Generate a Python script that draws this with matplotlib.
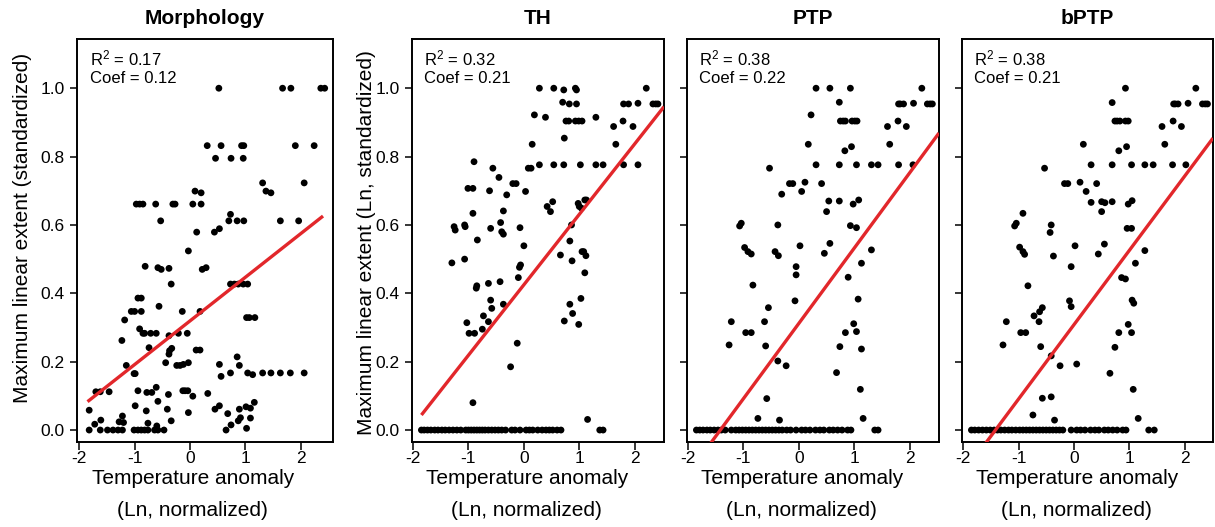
import matplotlib
matplotlib.use('Agg')
import matplotlib.pyplot as plt

plt.rcParams['font.family'] = ['Liberation Sans', 'DejaVu Sans']
plt.rcParams['mathtext.fontset'] = 'custom'
plt.rcParams['mathtext.rm'] = 'Liberation Sans'
plt.rcParams['mathtext.it'] = 'Liberation Sans:italic'
plt.rcParams['mathtext.bf'] = 'Liberation Sans:bold'
plt.rcParams['axes.unicode_minus'] = False

# ---------------- data ----------------
titles = ["Morphology", "TH", "PTP", "bPTP"]
r2_values = ["0.17", "0.32", "0.38", "0.38"]
coef_values = ["0.12", "0.21", "0.22", "0.21"]
x_ticks = [-2, -1, 0, 1, 2]
y_ticks = [0.0, 0.2, 0.4, 0.6, 0.8, 1.0]
y_tick_labels = ["0.0", "0.2", "0.4", "0.6", "0.8", "1.0"]
x_label = ["Temperature anomaly", "(Ln, normalized)"]
y_label_morph = "Maximum linear extent (standardized)"
y_label_ln = "Maximum linear extent (Ln, standardized)"

morph_pts = [
    (0.52,1.0),(1.67,1.0),(1.82,1.0),(2.36,1.0),(2.43,1.0),
    (0.31,0.832),(0.56,0.832),(0.93,0.832),(0.97,0.832),(1.90,0.832),(2.24,0.832),
    (0.46,0.795),(0.74,0.795),(0.96,0.795),
    (1.31,0.723),(2.06,0.723),
    (0.09,0.699),(0.20,0.694),(1.37,0.699),(1.46,0.694),
    (-0.97,0.661),(-0.91,0.661),(-0.85,0.661),(-0.62,0.661),(-0.31,0.661),(-0.27,0.661),(0.05,0.661),(0.20,0.661),
    (0.73,0.631),
    (-0.53,0.612),(0.70,0.612),(0.85,0.612),(0.97,0.612),(1.63,0.612),(1.96,0.612),
    (0.53,0.589),(0.12,0.579),(0.44,0.579),
    (-0.03,0.524),
    (-0.81,0.479),(-0.58,0.475),(-0.52,0.470),(-0.38,0.473),(0.22,0.470),(0.29,0.475),
    (-0.34,0.427),(0.73,0.427),(0.80,0.427),(0.87,0.427),(0.96,0.427),(1.04,0.427),
    (-0.94,0.386),(-0.88,0.386),
    (-0.56,0.362),
    (-1.06,0.347),(-1.00,0.347),(-0.88,0.347),(-0.14,0.347),(0.18,0.347),
    (1.02,0.329),(1.07,0.329),(1.17,0.329),
    (-1.18,0.322),
    (-0.91,0.296),(-0.85,0.283),(-0.82,0.283),(-0.71,0.283),(-0.61,0.283),(-0.38,0.276),(-0.21,0.283),(-0.05,0.283),
    (-1.23,0.262),
    (-0.74,0.241),(-0.37,0.232),(-0.33,0.239),(0.11,0.234),(0.18,0.234),
    (-0.38,0.222),(-0.44,0.197),(-0.24,0.189),(-0.18,0.189),(-0.12,0.192),(-0.03,0.197),(-1.15,0.189),
    (-1.01,0.165),(-0.99,0.165),
    (0.85,0.214),(0.89,0.189),(0.53,0.192),(0.56,0.157),(0.73,0.167),(1.04,0.167),(1.13,0.162),
    (1.31,0.167),(1.46,0.167),(1.63,0.167),(1.81,0.167),(2.06,0.167),
    (-1.70,0.112),(-1.62,0.112),(-1.46,0.112),(-0.94,0.115),(-0.78,0.110),(-0.69,0.110),(-0.61,0.125),
    (-0.13,0.115),(-0.09,0.115),(-0.04,0.115),(0.05,0.099),(0.32,0.107),(-0.39,0.104),
    (-0.99,0.071),(-0.58,0.084),(-0.41,0.061),(-0.79,0.056),(0.53,0.071),(0.45,0.061),(0.68,0.048),
    (0.89,0.061),(1.01,0.068),(1.09,0.064),(1.16,0.081),
    (-1.82,0.058),(-1.72,0.017),(-1.61,0.029),(-1.22,0.041),(-1.20,0.022),(-0.34,0.027),(-0.03,0.051),
    (0.87,0.027),(0.91,0.036),(1.09,0.035),(0.74,0.015),(1.02,0.005),(-0.76,0.020),(-0.60,0.012),(-1.28,0.024),
    (-1.82,0.0),(-1.62,0.0),(-1.49,0.0),(-1.39,0.0),(-1.30,0.0),(-1.22,0.0),(-1.01,0.0),(-0.94,0.0),
    (-0.88,0.0),(-0.82,0.0),(-0.76,0.0),(-0.64,0.0),(-0.58,0.0),(-0.47,0.0),(0.65,0.0),
]

th_pts = [
    (0.28,1.0),(0.54,1.0),(0.93,1.0),(0.72,0.995),(0.95,0.995),(2.21,1.0),
    (0.70,0.959),(0.82,0.954),(0.95,0.954),(1.80,0.954),(1.89,0.954),(2.06,0.956),(2.33,0.954),(2.38,0.954),(2.42,0.954),
    (0.19,0.922),(0.39,0.915),(1.30,0.915),
    (0.76,0.904),(0.81,0.904),(0.93,0.904),(0.99,0.904),(1.05,0.904),(1.79,0.904),
    (1.62,0.888),(1.97,0.888),
    (0.73,0.854),
    (0.15,0.836),(1.66,0.836),
    (-0.90,0.785),
    (0.28,0.776),(0.54,0.776),(0.72,0.776),(1.02,0.776),(1.30,0.776),(1.43,0.776),(1.80,0.776),(2.06,0.776),
    (-0.56,0.766),(0.08,0.766),(0.13,0.766),
    (-0.45,0.739),
    (-0.20,0.721),(-0.14,0.721),
    (-1.01,0.707),(-0.92,0.707),
    (-0.62,0.700),(0.03,0.698),(-0.31,0.688),
    (1.10,0.673),(1.13,0.673),(0.52,0.668),(0.98,0.663),
    (0.42,0.654),(1.00,0.654),(1.04,0.649),
    (-0.37,0.641),(0.48,0.639),
    (-0.92,0.634),
    (-0.42,0.607),(0.86,0.600),
    (-1.26,0.595),(-1.06,0.595),(-0.60,0.590),(-0.07,0.592),
    (-1.24,0.585),(-1.07,0.600),(-0.40,0.580),(-0.37,0.573),
    (-0.84,0.556),(0.83,0.553),(0.00,0.539),
    (1.05,0.522),(1.08,0.522),(1.12,0.510),
    (0.66,0.512),(-1.07,0.500),(0.87,0.495),(-1.30,0.489),
    (-0.06,0.483),(-0.08,0.476),
    (1.10,0.460),(-0.10,0.446),(-0.43,0.434),(-0.64,0.429),(-0.85,0.422),(-0.86,0.415),
    (1.03,0.385),(-0.60,0.380),(-0.37,0.368),(0.83,0.368),(-0.58,0.356),(0.88,0.341),(-0.73,0.334),
    (0.73,0.319),(-0.64,0.317),(-1.03,0.314),(0.99,0.309),(-0.75,0.295),(-0.99,0.283),(-0.89,0.283),
    (-0.12,0.254),(-0.24,0.185),(-0.92,0.080),(1.15,0.031),
]
th_zero_x = [-1.85,-1.80,-1.74,-1.68,-1.61,-1.55,-1.48,-1.42,-1.35,-1.28,-1.21,-1.14,-1.05,-1.00,
             -0.95,-0.90,-0.85,-0.80,-0.75,-0.70,-0.64,-0.58,-0.52,-0.46,-0.40,-0.33,-0.22,-0.16,
             -0.07,0.04,0.10,0.16,0.25,0.33,0.40,0.46,0.52,0.60,0.67,1.37,1.43]

ptp_pts = [
    (0.31,1.0),(0.56,1.0),(0.93,1.0),(2.22,1.0),
    (0.73,0.959),
    (1.80,0.954),(1.83,0.954),(1.89,0.954),(2.07,0.956),(2.32,0.954),(2.37,0.954),(2.41,0.954),
    (0.22,0.922),
    (0.75,0.904),(0.80,0.904),(0.84,0.904),(0.96,0.904),(1.01,0.904),(1.05,0.904),(1.79,0.904),
    (1.60,0.888),(1.94,0.888),
    (0.17,0.836),(1.64,0.836),(0.95,0.829),(0.83,0.817),
    (0.31,0.776),(0.73,0.776),(1.04,0.776),(1.31,0.776),(1.43,0.776),(1.80,0.776),(2.06,0.776),
    (-0.53,0.766),
    (-0.17,0.721),(-0.11,0.721),(0.11,0.725),(0.41,0.721),
    (0.05,0.698),(-0.31,0.690),
    (0.54,0.670),(0.73,0.670),(1.08,0.673),(0.98,0.661),
    (0.50,0.639),
    (-1.04,0.605),(-1.07,0.597),(-0.38,0.600),
    (0.93,0.598),(1.04,0.592),
    (0.56,0.546),(0.02,0.539),(-0.98,0.534),(1.31,0.527),
    (-0.92,0.522),(-0.86,0.515),(-0.43,0.522),(-0.37,0.510),(0.46,0.517),
    (1.13,0.488),(-0.05,0.478),(-0.05,0.454),(0.89,0.447),(-0.83,0.424),
    (1.07,0.383),(-0.07,0.378),(-0.55,0.358),(-1.22,0.317),(-0.62,0.317),(0.99,0.311),(1.04,0.288),
    (-0.96,0.285),(-0.86,0.285),(0.84,0.285),
    (-1.26,0.249),(-0.60,0.246),(0.74,0.244),(1.13,0.237),
    (-0.38,0.202),(-0.23,0.188),(0.68,0.168),(1.11,0.119),(-0.58,0.092),(-0.74,0.034),(1.16,0.034),(-0.35,0.029),
]
ptp_zero_x = [-1.85,-1.79,-1.73,-1.66,-1.60,-1.53,-1.46,-1.40,-1.33,-1.22,-1.14,-1.08,-1.02,-0.96,
              -0.90,-0.84,-0.78,-0.72,-0.66,-0.60,-0.54,-0.48,-0.42,-0.36,-0.30,-0.22,-0.15,-0.05,
              0.05,0.12,0.20,0.30,0.38,0.45,0.55,0.62,0.70,0.78,0.88,0.94,1.37,1.43]

bptp_pts = [
    (0.93,1.0),(2.20,1.0),
    (0.69,0.958),
    (1.80,0.954),(1.83,0.954),(1.88,0.954),(2.06,0.956),(2.32,0.954),(2.37,0.954),(2.41,0.954),
    (0.74,0.904),(0.78,0.904),(0.83,0.904),(0.93,0.904),(0.98,0.904),(1.79,0.904),
    (1.59,0.888),(1.94,0.888),
    (0.17,0.836),(1.64,0.836),(0.95,0.829),(0.81,0.817),
    (0.31,0.776),(0.69,0.776),(1.04,0.776),(1.28,0.776),(1.43,0.776),(1.78,0.776),(2.02,0.776),
    (-0.53,0.766),
    (-0.17,0.721),(-0.11,0.721),(0.11,0.725),(0.41,0.721),
    (0.22,0.698),
    (0.31,0.666),(0.50,0.668),(0.56,0.665),(0.69,0.668),(1.05,0.671),(0.98,0.661),
    (0.50,0.639),(-0.92,0.634),
    (-1.04,0.605),(-1.07,0.597),(-0.41,0.600),(-0.43,0.578),
    (0.96,0.590),(1.04,0.590),
    (0.55,0.544),(0.02,0.539),(-0.98,0.535),
    (-0.92,0.522),(-0.89,0.514),(0.44,0.515),(-0.37,0.509),(1.28,0.525),
    (1.11,0.488),(-0.05,0.478),(0.86,0.446),(0.93,0.442),(-0.83,0.422),
    (1.05,0.380),(1.08,0.371),(-0.08,0.378),(-0.05,0.361),
    (-0.57,0.358),(-0.62,0.346),(-0.72,0.334),(-0.63,0.317),
    (-1.22,0.317),(0.98,0.309),(-0.96,0.285),(-0.87,0.285),(0.81,0.285),(1.04,0.285),
    (-1.28,0.249),(-0.60,0.244),(0.74,0.242),
    (-0.41,0.217),(0.05,0.193),(-0.25,0.188),(0.65,0.166),(1.07,0.119),(-0.41,0.097),(-0.57,0.093),
    (-0.74,0.044),(1.16,0.034),(-0.35,0.029),
]
bptp_zero_x = [-1.85,-1.79,-1.72,-1.65,-1.58,-1.51,-1.44,-1.38,-1.32,-1.25,-1.18,-1.12,-1.05,-0.98,
               -0.92,-0.86,-0.80,-0.74,-0.68,-0.62,-0.56,-0.50,-0.44,-0.38,-0.32,-0.26,-0.20,-0.05,
               0.05,0.12,0.20,0.30,0.38,0.45,0.55,0.62,0.70,0.78,0.88,0.94,1.35,1.45]

# regression lines (endpoints)
fit_x = [[-1.85, 2.40], [-1.85, 2.53], [-1.60, 2.53], [-1.60, 2.51]]
fit_y = [[0.083, 0.626], [0.044, 0.946], [-0.040, 0.869], [-0.040, 0.854]]

point_sets = [
    ([p[0] for p in morph_pts], [p[1] for p in morph_pts]),
    ([p[0] for p in th_pts] + th_zero_x, [p[1] for p in th_pts] + [0.0] * len(th_zero_x)),
    ([p[0] for p in ptp_pts] + ptp_zero_x, [p[1] for p in ptp_pts] + [0.0] * len(ptp_zero_x)),
    ([p[0] for p in bptp_pts] + bptp_zero_x, [p[1] for p in bptp_pts] + [0.0] * len(bptp_zero_x)),
]

# ---------------- layout (pixels) ----------------
W, H = 1215, 527
boxes = [(77, 333), (412, 664), (687, 939), (962, 1213)]
box_top, box_bottom = 39, 442
xlims = [(-2.04, 2.58), (-2.02, 2.53), (-2.02, 2.53), (-2.02, 2.51)]
ylim = (-0.035, 1.144)

fig = plt.figure(figsize=(W / 100, H / 100), dpi=100)

for i in range(4):
    l, r = boxes[i]
    ax = fig.add_axes([l / W, 1 - box_bottom / H, (r - l) / W, (box_bottom - box_top) / H])
    xs, ys = point_sets[i]
    ax.scatter(xs, ys, s=24, color='black', edgecolors='none', zorder=3)
    ax.plot(fit_x[i], fit_y[i], color='#e2272b', lw=2.4, zorder=4, solid_capstyle='butt')
    ax.set_xlim(*xlims[i])
    ax.set_ylim(*ylim)
    ax.set_xticks(x_ticks)
    ax.set_xticklabels([str(t) for t in x_ticks])
    ax.set_yticks(y_ticks)
    if i < 2:
        ax.set_yticklabels(y_tick_labels)
    else:
        ax.set_yticklabels([])
    ax.tick_params(axis='both', direction='out', width=1.1, labelsize=12.5, colors='black')
    ax.tick_params(axis='x', length=5.5, pad=1)
    ax.tick_params(axis='y', length=5, pad=4)
    for sp in ax.spines.values():
        sp.set_linewidth(1.4)
        sp.set_color('black')
    ax.text(-1.81, 1.086, r'R$^2$ = ' + r2_values[i], fontsize=12, ha='left', va='center')
    ax.text(-1.81, 1.027, 'Coef = ' + coef_values[i], fontsize=12, ha='left', va='center')

    # title
    fig.text(((l + r) / 2) / W, 1 - 19 / H, titles[i], ha='center', va='center',
             fontsize=15, fontweight='bold')
    # x label, centred slightly right of x = 0
    x0, x1 = xlims[i]
    xc = l + (0.05 - x0) / (x1 - x0) * (r - l)
    fig.text(xc / W, 1 - 478 / H, x_label[0], ha='center', va='center', fontsize=15)
    fig.text(xc / W, 1 - 511 / H, x_label[1], ha='center', va='center', fontsize=15)

fig.text(23 / W, 1 - 228 / H, y_label_morph, rotation=90, ha='center', va='center', fontsize=15)
fig.text(366 / W, 1 - 243 / H, y_label_ln, rotation=90, ha='center', va='center', fontsize=15)

fig.savefig('out.png', dpi=100, facecolor='white')
